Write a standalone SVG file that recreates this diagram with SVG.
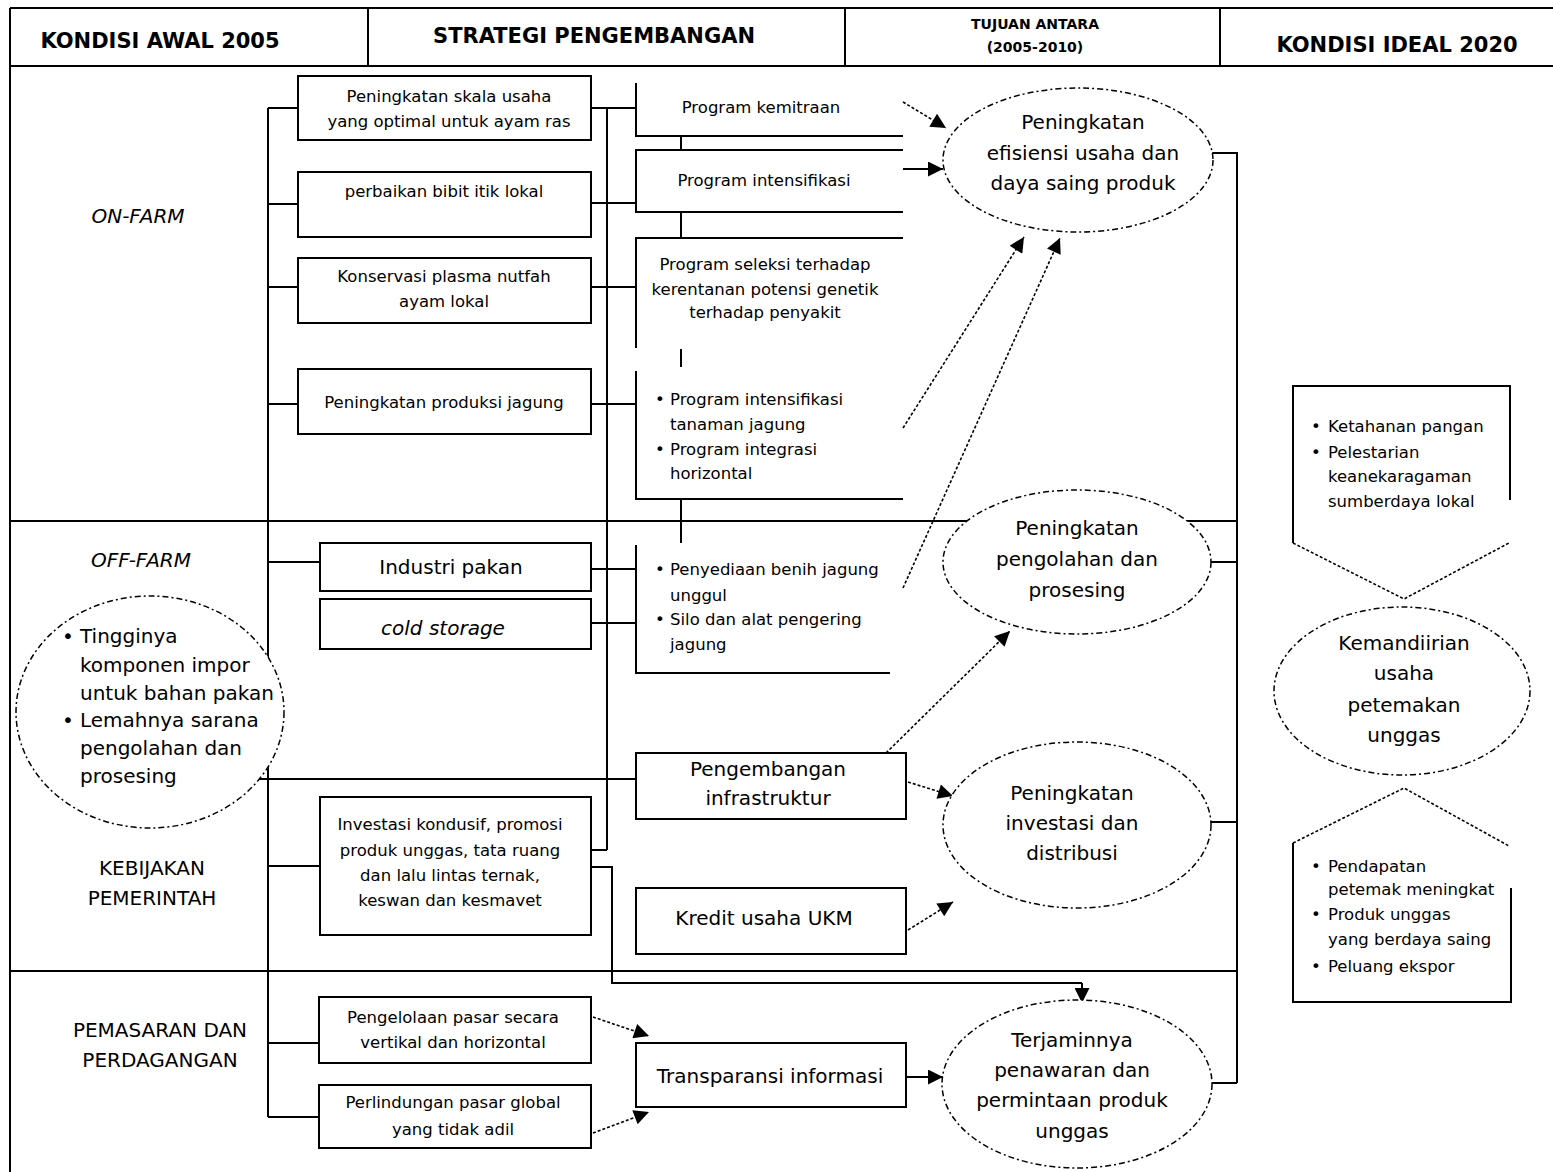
<svg xmlns="http://www.w3.org/2000/svg" width="1553" height="1172" viewBox="0 0 1553 1172">
  <style>
    text { font-family: "DejaVu Sans", Verdana, sans-serif; fill: #000; }
    .h { font-weight: bold; font-size: 21px; text-anchor: middle; }
    .hs { font-weight: bold; font-size: 14px; text-anchor: middle; }
    .lab { font-size: 20px; text-anchor: middle; }
    .it { font-style: italic; }
    .s { font-size: 16.5px; }
    .m { font-size: 20px; }
    .c { text-anchor: middle; }
    .box { fill: #fff; stroke: #000; stroke-width: 2; }
    .ln { fill: none; stroke: #000; stroke-width: 2; }
    .ell { fill: #fff; stroke: #000; stroke-width: 1.5; stroke-dasharray: 6 3 2 3; }
    .dot { fill: none; stroke: #000; stroke-width: 1.6; stroke-dasharray: 3 2; }
    .sol { fill: none; stroke: #000; stroke-width: 2; }
  </style>
  <defs>
    <marker id="arrow" viewBox="0 0 10 10" refX="10" refY="5" markerWidth="18" markerHeight="15" markerUnits="userSpaceOnUse" orient="auto">
      <path d="M0,0 L10,5 L0,10 z" fill="#000"/>
    </marker>
  </defs>

  <rect width="1553" height="1172" fill="#fff"/>

  <!-- table frame: header row, side border, band separators -->
  <g id="frame" class="ln">
    <path d="M10,8 H1553 M10,66 H1553 M10,8 V1172 M368,8 V66 M845,8 V66 M1220,8 V66"/>
    <path d="M10,521 H1237 M10,971 H1237"/>
  </g>

  <g id="header">
    <text class="h" x="160" y="48">KONDISI AWAL 2005</text>
    <text class="h" x="594" y="43">STRATEGI PENGEMBANGAN</text>
    <text class="hs" x="1035" y="29">TUJUAN ANTARA</text>
    <text class="hs" x="1035" y="52">(2005-2010)</text>
    <text class="h" x="1397" y="52">KONDISI IDEAL 2020</text>
  </g>

  <g id="row-labels">
    <text class="lab it" x="138" y="223">ON-FARM</text>
    <text class="lab it" x="141" y="567">OFF-FARM</text>
    <text class="lab" x="152" y="875">KEBIJAKAN</text>
    <text class="lab" x="152" y="905">PEMERINTAH</text>
    <text class="lab" x="160" y="1037">PEMASARAN DAN</text>
    <text class="lab" x="160" y="1067">PERDAGANGAN</text>
  </g>

  <!-- connectors -->
  <g id="connectors">
    <!-- left trunk and branches -->
    <path class="ln" d="M268,108 V1117 M268,108 H298 M268,204 H298 M268,287 H298 M268,404 H298 M268,562 H320 M268,866 H320 M268,1043 H319 M268,1117 H319"/>
    <path class="ln" d="M258,779 H636"/>
    <!-- second trunk -->
    <path class="ln" d="M607,108 V850 M591,108 H636 M591,203 H636 M591,287 H636 M591,404 H636 M591,569 H636 M591,623 H636 M591,850 H607"/>
    <!-- links between program blocks -->
    <path class="ln" d="M681,136 V150 M681,212 V238 M681,349 V367 M681,499 V543"/>
    <!-- policy box to market outcome -->
    <path class="ln" d="M591,867 H612 V983 H1082"/>
    <path class="sol" d="M1082,983 V1003" marker-end="url(#arrow)"/>
    <!-- right bracket -->
    <path class="ln" d="M1212,153 H1237 V1083 M1211,562 H1237 M1211,822 H1237 M1212,1083 H1237"/>
    <!-- arrows toward goals -->
    <path class="dot" d="M903,102 L946,128" marker-end="url(#arrow)"/>
    <path class="sol" d="M903,169 L943,169" marker-end="url(#arrow)"/>
    <path class="dot" d="M903,428 L1024,237" marker-end="url(#arrow)"/>
    <path class="dot" d="M903,588 L1060,238" marker-end="url(#arrow)"/>
    <path class="dot" d="M886,753 L1010,631" marker-end="url(#arrow)"/>
    <path class="dot" d="M908,782 L953,796" marker-end="url(#arrow)"/>
    <path class="dot" d="M908,930 L953,902" marker-end="url(#arrow)"/>
    <path class="dot" d="M593,1017 L649,1036" marker-end="url(#arrow)"/>
    <path class="dot" d="M593,1133 L649,1112" marker-end="url(#arrow)"/>
    <path class="sol" d="M906,1077 L943,1077" marker-end="url(#arrow)"/>
  </g>

  <!-- initial condition -->
  <g id="kondisi-awal">
    <ellipse class="ell" cx="150" cy="712" rx="134" ry="116"/>
    <text class="m" x="62" y="643">•</text>
    <text class="m" x="80" y="643">Tingginya</text>
    <text class="m" x="80" y="672">komponen impor</text>
    <text class="m" x="80" y="700">untuk bahan pakan</text>
    <text class="m" x="62" y="727">•</text>
    <text class="m" x="80" y="727">Lemahnya sarana</text>
    <text class="m" x="80" y="755">pengolahan dan</text>
    <text class="m" x="80" y="783">prosesing</text>
  </g>

  <!-- strategy boxes -->
  <g id="skala-usaha">
    <rect class="box" x="298" y="76" width="293" height="64"/>
    <text class="s c" x="449" y="102">Peningkatan skala usaha</text>
    <text class="s c" x="449" y="127">yang optimal untuk ayam ras</text>
  </g>
  <g id="bibit-itik">
    <rect class="box" x="298" y="172" width="293" height="65"/>
    <text class="s c" x="444" y="197">perbaikan bibit itik lokal</text>
  </g>
  <g id="plasma-nutfah">
    <rect class="box" x="298" y="258" width="293" height="65"/>
    <text class="s c" x="444" y="282">Konservasi plasma nutfah</text>
    <text class="s c" x="444" y="307">ayam lokal</text>
  </g>
  <g id="produksi-jagung">
    <rect class="box" x="298" y="369" width="293" height="65"/>
    <text class="s c" x="444" y="408">Peningkatan produksi jagung</text>
  </g>
  <g id="industri-pakan">
    <rect class="box" x="320" y="543" width="271" height="48"/>
    <text class="m c" x="451" y="574">Industri pakan</text>
  </g>
  <g id="cold-storage">
    <rect class="box" x="320" y="599" width="271" height="50"/>
    <text class="m c it" x="443" y="635">cold storage</text>
  </g>
  <g id="investasi-kondusif">
    <rect class="box" x="320" y="797" width="271" height="138"/>
    <text class="s c" x="450" y="830">Investasi kondusif, promosi</text>
    <text class="s c" x="450" y="856">produk unggas, tata ruang</text>
    <text class="s c" x="450" y="881">dan lalu lintas ternak,</text>
    <text class="s c" x="450" y="906">keswan dan kesmavet</text>
  </g>
  <g id="pengelolaan-pasar">
    <rect class="box" x="319" y="997" width="272" height="66"/>
    <text class="s c" x="453" y="1023">Pengelolaan pasar secara</text>
    <text class="s c" x="453" y="1048">vertikal dan horizontal</text>
  </g>
  <g id="perlindungan-pasar">
    <rect class="box" x="319" y="1085" width="272" height="63"/>
    <text class="s c" x="453" y="1108">Perlindungan pasar global</text>
    <text class="s c" x="453" y="1135">yang tidak adil</text>
  </g>

  <!-- programme blocks (open on the right) -->
  <g id="program-kemitraan">
    <path class="ln" d="M636,83 V136 H903"/>
    <text class="s c" x="761" y="113">Program kemitraan</text>
  </g>
  <g id="program-intensifikasi">
    <path class="ln" d="M903,150 H636 V212 H903"/>
    <text class="s c" x="764" y="186">Program intensifikasi</text>
  </g>
  <g id="program-seleksi">
    <path class="ln" d="M903,238 H636 V348"/>
    <text class="s c" x="765" y="270">Program seleksi terhadap</text>
    <text class="s c" x="765" y="295">kerentanan potensi genetik</text>
    <text class="s c" x="765" y="318">terhadap penyakit</text>
  </g>
  <g id="program-jagung">
    <path class="ln" d="M636,371 V499 H903"/>
    <text class="s" x="655" y="405">•</text>
    <text class="s" x="670" y="405">Program intensifikasi</text>
    <text class="s" x="670" y="430">tanaman jagung</text>
    <text class="s" x="655" y="455">•</text>
    <text class="s" x="670" y="455">Program integrasi</text>
    <text class="s" x="670" y="479">horizontal</text>
  </g>
  <g id="program-benih">
    <path class="ln" d="M636,545 V673 H890"/>
    <text class="s" x="655" y="575">•</text>
    <text class="s" x="670" y="575">Penyediaan benih jagung</text>
    <text class="s" x="670" y="601">unggul</text>
    <text class="s" x="655" y="625">•</text>
    <text class="s" x="670" y="625">Silo dan alat pengering</text>
    <text class="s" x="670" y="650">jagung</text>
  </g>
  <g id="infrastruktur">
    <rect class="box" x="636" y="753" width="270" height="66"/>
    <text class="m c" x="768" y="776">Pengembangan</text>
    <text class="m c" x="768" y="805">infrastruktur</text>
  </g>
  <g id="kredit-ukm">
    <rect class="box" x="636" y="888" width="270" height="66"/>
    <text class="m c" x="764" y="925">Kredit usaha UKM</text>
  </g>
  <g id="transparansi">
    <rect class="box" x="636" y="1043" width="270" height="64"/>
    <text class="m c" x="770" y="1083">Transparansi informasi</text>
  </g>

  <!-- intermediate goals -->
  <g id="efisiensi">
    <ellipse class="ell" cx="1078" cy="160" rx="135" ry="72"/>
    <text class="m c" x="1083" y="129">Peningkatan</text>
    <text class="m c" x="1083" y="160">efisiensi usaha dan</text>
    <text class="m c" x="1083" y="190">daya saing produk</text>
  </g>
  <g id="pengolahan">
    <ellipse class="ell" cx="1077" cy="562" rx="134" ry="72"/>
    <text class="m c" x="1077" y="535">Peningkatan</text>
    <text class="m c" x="1077" y="566">pengolahan dan</text>
    <text class="m c" x="1077" y="597">prosesing</text>
  </g>
  <g id="investasi">
    <ellipse class="ell" cx="1077" cy="825" rx="134" ry="83"/>
    <text class="m c" x="1072" y="800">Peningkatan</text>
    <text class="m c" x="1072" y="830">investasi dan</text>
    <text class="m c" x="1072" y="860">distribusi</text>
  </g>
  <g id="penawaran">
    <ellipse class="ell" cx="1077" cy="1084" rx="135" ry="84"/>
    <text class="m c" x="1072" y="1047">Terjaminnya</text>
    <text class="m c" x="1072" y="1077">penawaran dan</text>
    <text class="m c" x="1072" y="1107">permintaan produk</text>
    <text class="m c" x="1072" y="1138">unggas</text>
  </g>

  <!-- ideal condition -->
  <g id="ketahanan">
    <path class="ln" d="M1293,543 V386 H1510 V500"/>
    <path class="dot" d="M1293,543 L1404,599 L1509,543"/>
    <text class="s" x="1311" y="432">•</text>
    <text class="s" x="1328" y="432">Ketahanan pangan</text>
    <text class="s" x="1311" y="458">•</text>
    <text class="s" x="1328" y="458">Pelestarian</text>
    <text class="s" x="1328" y="482">keanekaragaman</text>
    <text class="s" x="1328" y="507">sumberdaya lokal</text>
  </g>
  <g id="kemandirian">
    <ellipse class="ell" cx="1402" cy="691" rx="128" ry="84"/>
    <text class="m c" x="1404" y="650">Kemandiirian</text>
    <text class="m c" x="1404" y="680">usaha</text>
    <text class="m c" x="1404" y="712">petemakan</text>
    <text class="m c" x="1404" y="742">unggas</text>
  </g>
  <g id="pendapatan">
    <path class="dot" d="M1293,843 L1404,788 L1509,846"/>
    <path class="ln" d="M1293,843 V1002 H1511 V888"/>
    <text class="s" x="1311" y="872">•</text>
    <text class="s" x="1328" y="872">Pendapatan</text>
    <text class="s" x="1328" y="895">petemak meningkat</text>
    <text class="s" x="1311" y="920">•</text>
    <text class="s" x="1328" y="920">Produk unggas</text>
    <text class="s" x="1328" y="945">yang berdaya saing</text>
    <text class="s" x="1311" y="972">•</text>
    <text class="s" x="1328" y="972">Peluang ekspor</text>
  </g>
</svg>
